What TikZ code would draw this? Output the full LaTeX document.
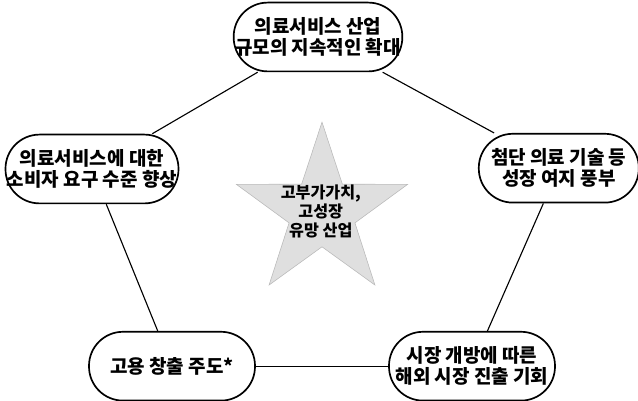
\documentclass[tikz,border=0pt]{standalone}
\usepackage{fontspec}
\setmainfont{Noto Sans CJK KR}
\usetikzlibrary{shapes.geometric}

\tikzset{
  goal/.style={draw, line width=1.2pt, rectangle, rounded corners=0.85cm,
    minimum width=4.15cm, minimum height=1.72cm, align=center,
    font=\fontsize{13.5}{15}\selectfont\bfseries, inner sep=1pt},
  link/.style={line width=0.8pt}
}

\begin{document}
\begin{tikzpicture}
    \useasboundingbox (0,0) rectangle (15.95,10.025);

    % centre star
    \node[star, star points=5, star point ratio=2.6, minimum size=4.5cm,
      fill=gray!25, draw=gray!55, inner sep=0pt] (star) at (8.05,4.72) {};
    \node[align=center, font=\fontsize{11.5}{13.5}\selectfont\bfseries] (core) at (8.02,4.73)
      {고부가가치,\\고성장\\유망 산업};

    % the five points
    \node[goal] (scale) at (7.95,9.1) {의료서비스 산업\\규모의 지속적인 확대};
    \node[goal, minimum width=4.3cm] (demand) at (2.3,5.8) {의료서비스에 대한\\소비자 요구 수준 향상};
    \node[goal, minimum width=4.0cm] (tech) at (13.97,5.82) {첨단 의료 기술 등\\성장 여지 풍부};
    \node[goal] (jobs) at (4.3,0.87) {고용 창출 주도*};
    \node[goal] (market) at (11.8,0.87) {시장 개방에 따른\\해외 시장 진출 기회};

    \draw[link] (scale) -- (demand);
    \draw[link] (demand) -- (jobs);
    \draw[link] (jobs) -- (market);
    \draw[link] (market) -- (tech);
    \draw[link] (tech) -- (scale);

\end{tikzpicture}
\end{document}
